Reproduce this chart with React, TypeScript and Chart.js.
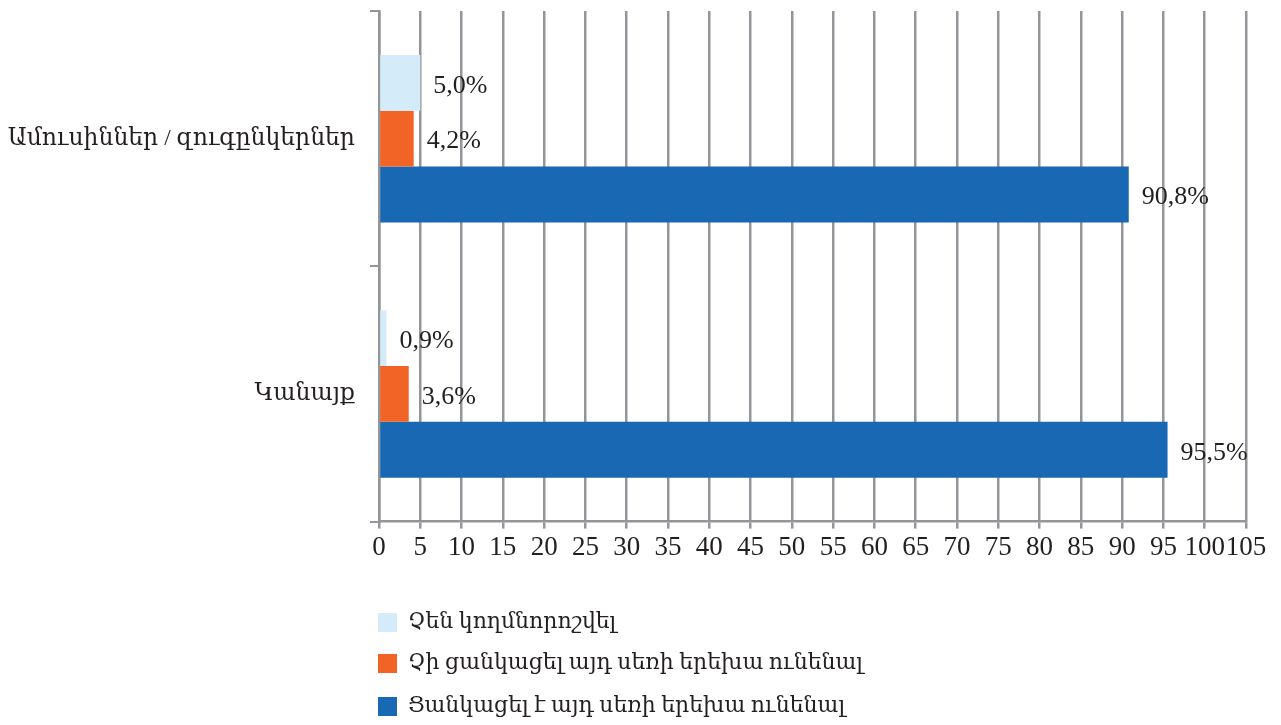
import React, { useEffect, useRef } from "react";
import { Chart, registerables } from "chart.js";

Chart.register(...registerables);

const categories = ["Ամուսիններ / զուգընկերներ", "Կանայք"];
const seriesNames = [
  "Չեն կողմնորոշվել",
  "Չի ցանկացել այդ սեռի երեխա ունենալ",
  "Ցանկացել է այդ սեռի երեխա ունենալ",
];
const undecided = [5.0, 0.9];
const notWanted = [4.2, 3.6];
const wanted = [90.8, 95.5];
const seriesColors = ["#D4ECF9", "#F26426", "#1868B3"];
const xMin = 0;
const xMax = 105;
const xStep = 5;

const FONT = "'Liberation Serif', 'DejaVu Serif', serif";
const TEXT = "#231F20";
const GRID = "#939598";

const fmt = (v: number) => v.toFixed(1).replace(".", ",") + "%";

const valueLabels = {
  id: "valueLabels",
  afterDatasetsDraw(chart: any) {
    const ctx = chart.ctx;
    ctx.save();
    ctx.font = `26px ${FONT}`;
    ctx.fillStyle = TEXT;
    ctx.textAlign = "left";
    ctx.textBaseline = "middle";
    chart.data.datasets.forEach((ds: any, i: number) => {
      const meta = chart.getDatasetMeta(i);
      meta.data.forEach((el: any, j: number) => {
        ctx.fillText(fmt(ds.data[j]), el.x + 13, el.y + 3);
      });
    });
    ctx.restore();
  },
};

const listLegend = {
  id: "listLegend",
  afterDraw(chart: any) {
    const ctx = chart.ctx;
    ctx.save();
    ctx.font = `22px ${FONT}`;
    ctx.textAlign = "left";
    ctx.textBaseline = "middle";
    const x0 = chart.chartArea.left - 1;
    const rows = [chart.height - 103, chart.height - 62, chart.height - 19];
    chart.data.datasets.forEach((ds: any, i: number) => {
      const y = rows[i];
      ctx.fillStyle = ds.backgroundColor;
      ctx.fillRect(x0, y - 9, 19, 19);
      ctx.fillStyle = TEXT;
      ctx.fillText(ds.label, x0 + 30, y);
    });
    ctx.restore();
  },
};

export default function App() {
  const ref = useRef<HTMLCanvasElement>(null);
  useEffect(() => {
    if (!ref.current) return;
    const data = [undecided, notWanted, wanted];
    const chart = new Chart(ref.current, {
      type: "bar",
      data: {
        labels: categories,
        datasets: seriesNames.map((name, i) => ({
          label: name,
          data: data[i],
          backgroundColor: seriesColors[i],
          borderWidth: 0,
          categoryPercentage: 0.656,
          barPercentage: 1,
        })),
      },
      options: {
        indexAxis: "y",
        animation: false,
        responsive: true,
        maintainAspectRatio: false,
        layout: { padding: { top: 11, right: 35, bottom: 158, left: 0 } },
        plugins: {
          legend: { display: false },
          tooltip: { enabled: false },
        },
        scales: {
          x: {
            min: xMin,
            max: xMax,
            ticks: {
              stepSize: xStep,
              color: TEXT,
              font: { family: FONT, size: 27 },
              padding: 3,
              maxRotation: 0,
              autoSkip: false,
            },
            grid: {
              color: GRID,
              lineWidth: 2.5,
              tickLength: 7,
              drawTicks: true,
            },
            border: { color: GRID, width: 2.5 },
          },
          y: {
            afterFit: (s: any) => {
              s.width = 379;
              s.paddingTop = 0;
              s.paddingBottom = 0;
            },
            ticks: {
              color: TEXT,
              font: { family: FONT, size: 23.5 },
              padding: 15,
            },
            grid: {
              drawOnChartArea: false,
              color: GRID,
              lineWidth: 2,
              tickLength: 9,
            },
            border: { color: GRID, width: 2.5 },
          },
        },
      },
      plugins: [valueLabels, listLegend],
    });
    return () => chart.destroy();
  }, []);
  return (
    <div style={{ position: "fixed", left: 0, top: 0, width: 1281, height: 725, background: "#fff" }}>
      <canvas ref={ref} />
    </div>
  );
}
